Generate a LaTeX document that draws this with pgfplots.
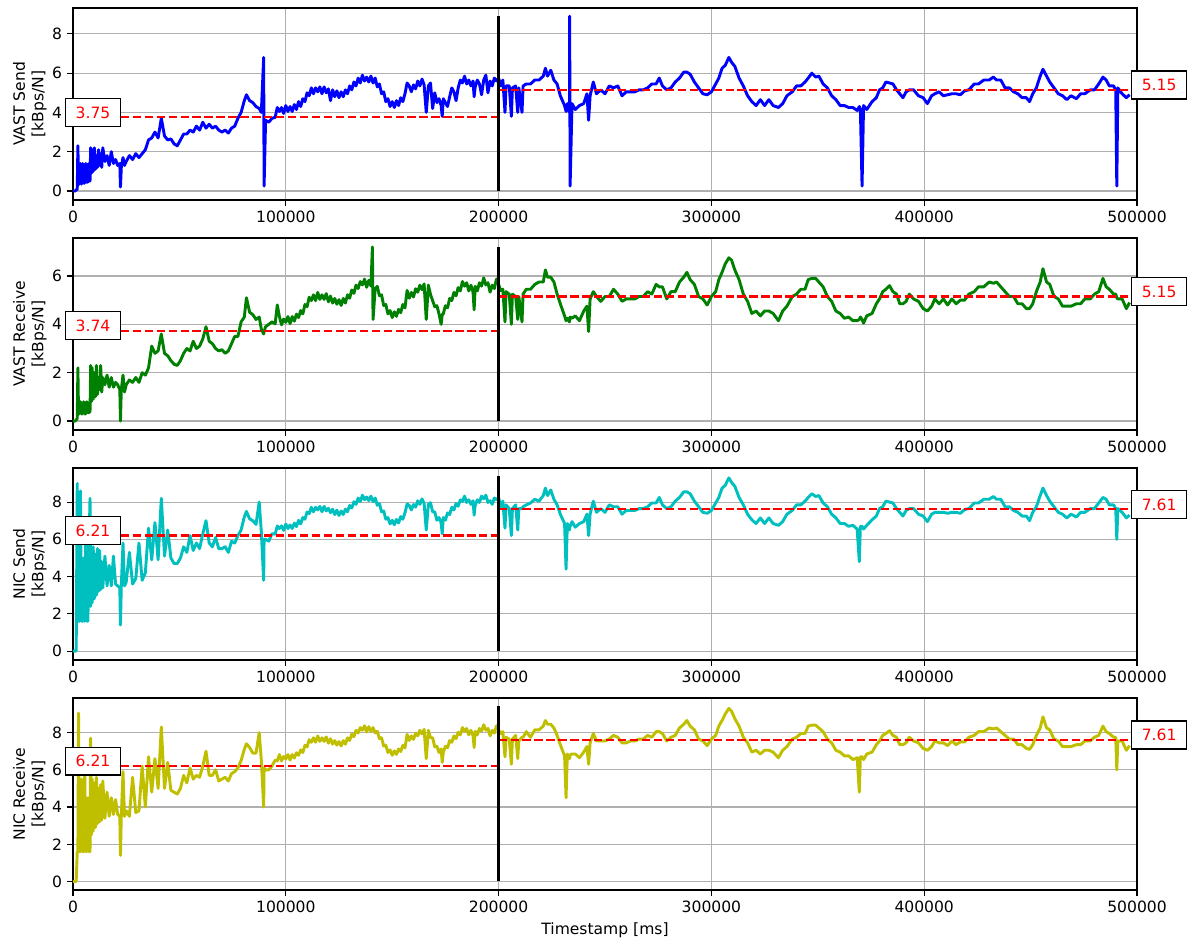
\documentclass[border=0pt]{standalone}
\usepackage{fontspec}
\setmainfont{DejaVu Sans}
\usepackage{pgfplots}
\usepackage{pgfplotstable}
\pgfplotsset{compat=1.18}

\definecolor{mplblue}{RGB}{0,0,255}
\definecolor{mplgreen}{RGB}{0,128,0}
\definecolor{mplcyan}{RGB}{0,191,191}
\definecolor{mplyellow}{RGB}{191,191,0}
\definecolor{gridgray}{RGB}{176,176,176}

\pgfplotstableread{
x vs vr ns nr
0 0 0 0 0
500 0 0 0 0
1000 0 0 0 0
1500 0.05 0.05 0 0
2000 0.1 0.1 9.0 1.6
2300 2.3 2.2 1.6 1.6
2600 0.35 0.3 1.6 9.05
3000 0.35 0.3 1.6 1.6
3500 1.4 0.8 8.6 1.6
4000 0.35 0.3 1.6 5.5
4500 1.4 0.3 1.6 1.6
5000 0.4 0.8 5.0 1.6
5500 0.4 0.3 1.6 6.0
6000 1.4 0.3 6.3 1.6
6500 0.45 0.8 1.6 1.6
7000 0.45 0.35 1.6 4.5
7500 1.4 0.35 5.5 1.6
8000 0.5 0.4 8.2 1.6
8300 2.2 2.3 2.4 7.7
8600 0.9 0.8 5.4 2.5
9000 2.1 2.2 2.6 5.5
9500 1.0 0.9 5.6 2.7
10000 2.2 2.0 2.8 5.3
10500 1.1 1.0 5.2 2.9
11000 1.8 2.3 3.0 5.6
11500 1.2 1.1 5.5 3.1
12000 2.1 1.8 3.2 5.0
12500 1.3 1.3 5.4 3.2
13000 1.9 2.3 3.3 5.2
13500 1.2 1.2 4.8 3.3
14000 2.2 1.8 3.4 5.4
15000 1.5 1.5 5.1 3.4
16000 1.8 1.9 3.5 4.8
17000 1.3 1.4 4.6 3.5
18000 2.0 1.8 3.5 4.5
19000 1.4 1.4 5.1 3.6
20000 1.6 1.6 3.6 4.4
21000 1.3 1.5 3.5 3.6
22000 1.4 1.3 3.4 3.5
22300 0.2 0.0 1.4 1.4
22700 1.2 1.3 3.5 3.5
23500 1.7 1.9 5.8 5.9
24200 1.3 1.2 3.5 3.5
25000 1.5 1.5 3.7 3.8
26500 1.8 1.7 5.3 3.5
28000 1.6 1.6 3.6 5.6
29500 1.9 1.8 3.9 3.7
31000 1.7 1.6 5.8 3.8
32500 1.9 2.0 3.8 6.2
34000 2.1 1.9 4.2 4.0
35500 2.6 2.2 6.6 6.7
37000 2.7 3.1 4.9 4.8
38500 3.0 2.8 6.9 6.6
40000 2.7 2.9 4.9 5.0
41500 3.7 3.6 8.2 8.3
43000 2.8 2.8 5.1 5.0
44500 2.6 2.7 6.5 6.4
46000 2.65 2.5 5.0 4.9
47500 2.4 2.35 4.7 4.8
49000 2.3 2.3 4.7 4.7
50500 2.6 2.5 5.0 5.0
52000 2.9 2.8 5.6 5.7
53500 2.9 3.0 5.3 5.3
55000 3.1 2.9 6.2 6.1
56500 3.0 3.3 5.4 5.5
58000 3.3 3.0 5.8 5.7
59500 3.1 3.1 5.5 5.6
61000 3.5 3.4 6.3 6.2
62500 3.2 3.9 7.0 7.0
64000 3.4 3.3 5.8 5.7
65500 3.2 3.2 5.6 5.7
67000 3.3 3.0 6.1 6.0
68500 3.1 2.9 5.5 5.4
70000 3.0 2.95 5.5 5.5
71500 3.1 2.8 5.6 5.6
73000 2.95 2.9 5.3 5.4
74500 3.2 3.2 5.9 5.8
76000 3.3 3.5 5.8 5.9
77500 3.7 3.5 6.2 6.1
79000 4.0 4.1 6.5 6.5
80500 4.6 4.3 7.2 7.1
81500 4.9 5.1 7.5 7.4
83000 4.6 4.5 7.1 7.2
84500 4.5 4.4 7.0 6.9
86000 4.3 4.2 6.8 6.9
87500 4.2 4.3 8.0 8.0
88500 4.0 3.8 6.4 6.5
89600 6.8 3.6 3.8 4.0
89800 0.25 3.7 6.0 6.1
90500 3.6 3.9 6.0 6.0
92000 3.5 4.0 5.9 6.0
93500 3.7 4.1 6.3 6.2
95000 3.75 4.02 6.28 6.52
96000 4.25 4.8 6.72 6.48
97000 4.05 4.32 6.58 6.82
98000 4.25 3.98 6.72 6.48
99000 3.95 4.22 6.48 6.72
100000 4.35 4.08 6.82 6.58
101000 4.05 4.32 6.58 6.82
102000 4.3 4.03 6.77 6.53
103000 4.05 4.32 6.58 6.82
104000 4.4 4.13 6.87 6.63
105000 4.15 4.42 6.68 6.92
106000 4.55 4.28 7.02 6.78
107000 4.3 4.57 6.83 7.07
108000 4.7 4.43 7.17 6.93
109000 4.55 4.82 7.08 7.32
110000 5.0 4.73 7.47 7.23
111000 4.85 5.12 7.38 7.62
112000 5.25 4.98 7.72 7.48
113000 4.95 5.22 7.48 7.72
114000 5.25 4.98 7.72 7.48
115000 5.05 5.32 7.58 7.82
116000 5.3 5.03 7.77 7.53
117000 4.95 5.22 7.48 7.72
118000 5.3 5.03 7.77 7.53
119000 5.0 5.27 7.53 7.77
120000 5.2 4.93 7.67 7.43
121000 4.6 5.17 7.43 7.67
122000 5.15 4.88 7.62 7.38
123000 4.8 5.07 7.33 7.57
124000 5.1 4.83 7.57 7.33
125000 4.75 5.02 7.28 7.52
126000 5.05 4.78 7.52 7.28
127000 4.8 5.07 7.33 7.57
128000 5.15 4.88 7.62 7.38
129000 4.95 5.22 7.48 7.72
130000 5.35 5.08 7.82 7.58
131000 5.15 5.42 7.68 7.92
132000 5.55 5.28 8.02 7.78
133000 5.35 5.62 7.88 8.12
134000 5.75 5.48 8.22 7.98
135000 5.5 5.77 8.03 8.27
136000 5.9 5.63 8.37 8.13
137000 5.6 5.87 8.13 8.37
138000 5.8 5.53 8.27 8.03
139000 5.55 5.82 8.08 8.32
140000 5.85 5.58 8.32 8.08
140700 5.6 7.2 8.1 8.2
141000 5.5 4.2 8.03 8.27
142000 5.75 5.48 8.22 7.98
143000 5.3 5.57 7.83 8.07
144000 5.45 5.18 7.92 7.68
145000 4.95 5.22 7.48 7.72
146000 5.05 4.78 7.52 7.28
147000 4.55 4.82 7.08 7.32
148000 4.7 4.43 7.17 6.93
149000 4.3 4.57 6.83 7.07
150000 4.55 4.28 7.02 6.78
151000 4.25 4.52 6.78 7.02
152000 4.6 4.33 7.07 6.83
153000 4.35 4.62 6.88 7.12
154000 4.75 4.48 7.22 6.98
155000 4.55 4.82 7.08 7.32
156000 4.95 4.68 7.42 7.18
157000 5.5 5.4 7.9 7.9
158000 5.35 5.08 7.82 7.58
159000 5.05 5.32 7.58 7.82
160000 5.4 5.13 7.87 7.63
161000 5.2 5.47 7.73 7.97
162000 5.6 5.33 8.07 7.83
163000 5.35 5.62 7.88 8.12
164000 5.7 5.43 8.17 7.93
165000 5.4 5.67 7.93 8.17
166000 4.0 4.2 6.5 6.6
167000 5.35 5.62 7.88 8.12
168000 5.5 5.23 7.97 7.73
169000 4.2 4.98 7.48 7.72
170000 5.0 4.73 7.47 7.23
171000 4.5 4.77 7.03 7.27
172000 4.7 4.43 7.17 6.93
173000 4.35 4.0 6.88 7.12
173500 3.8 4.4 6.3 6.4
174000 4.7 4.43 7.17 6.93
175000 4.5 4.77 7.03 7.27
176000 4.3 4.68 7.42 7.18
177000 4.8 5.07 7.33 7.57
178000 5.25 4.98 7.72 7.48
179000 5.05 5.32 7.58 7.82
180000 4.6 5.18 7.92 7.68
181000 5.25 5.52 7.78 8.02
182000 5.65 5.38 8.12 7.88
183000 5.5 5.77 8.03 8.27
184000 5.85 5.58 8.32 8.08
185000 5.45 5.72 7.98 8.22
186000 5.65 5.38 8.12 7.88
187000 5.35 5.62 7.88 8.12
188000 5.6 5.33 8.07 7.83
188500 4.8 4.6 7.3 7.2
189000 5.3 5.57 7.83 8.07
190000 5.65 5.38 8.12 7.88
191000 5.45 5.72 7.98 8.22
192000 4.9 5.58 8.32 8.08
193000 5.65 5.92 8.18 8.42
194000 5.9 5.63 8.37 8.13
195000 5.0 5.72 7.98 8.22
196000 5.6 5.33 8.07 7.83
197000 5.35 5.62 7.88 8.12
198000 5.75 5.48 8.22 7.98
199000 5.6 5.87 8.13 8.37
200000 5.75 5.65 8.25 8.15
201000 5.35 5.4 7.75 7.95
202000 5.65 5.45 8.05 8.05
203000 4.0 4.1 6.6 6.7
203500 5.35 5.35 7.85 7.75
205000 5.35 5.25 7.65 7.65
206000 3.8 4.0 6.2 6.3
206500 5.25 5.25 7.65 7.65
208000 5.35 5.15 7.85 7.85
209000 4.0 4.2 6.5 6.6
209500 5.25 5.15 7.65 7.55
211000 4.0 4.1 7.65 7.75
211500 5.35 5.25 7.75 7.75
213000 5.45 5.45 7.85 8.05
215000 5.45 5.45 7.95 7.75
217000 5.65 5.65 8.15 8.15
219000 5.65 5.75 8.05 8.15
221000 5.85 5.75 8.35 8.35
222000 6.25 6.25 8.75 8.65
223000 5.85 5.95 8.35 8.45
224500 6.15 5.95 8.65 8.45
226000 5.65 5.75 8.15 8.25
227500 5.45 5.25 7.85 7.85
229000 4.85 4.85 7.35 7.35
231000 4.35 4.35 6.85 6.75
231700 4.05 4.15 4.4 4.5
232300 4.45 4.25 6.85 6.85
233300 4.0 4.1 6.5 6.6
233400 8.9 4.2 6.6 6.6
233600 0.25 4.3 6.7 6.8
234500 4.45 4.25 6.95 6.85
236000 4.15 4.35 6.65 6.85
238000 4.35 4.15 6.85 6.65
240000 4.45 4.55 6.95 6.95
241500 4.95 4.75 7.35 7.25
242300 3.6 3.7 6.2 6.3
243000 4.85 5.05 7.35 7.45
244500 5.55 5.35 8.05 7.95
246000 4.95 5.15 7.45 7.55
248000 5.15 4.95 7.65 7.55
250000 4.95 5.15 7.45 7.55
252000 5.35 5.15 7.85 7.65
254000 5.25 5.45 7.75 7.85
256000 5.35 5.25 7.75 7.75
258000 4.85 4.95 7.35 7.45
260000 5.05 5.05 7.55 7.45
262000 5.05 5.05 7.55 7.55
264000 5.05 5.05 7.55 7.55
266000 5.15 5.15 7.65 7.65
268000 5.15 5.15 7.65 7.65
270000 5.25 5.35 7.75 7.85
272000 5.45 5.25 7.95 7.75
274000 5.45 5.65 7.95 8.05
275500 5.75 5.55 8.25 8.05
277000 5.35 5.55 7.85 7.95
279000 5.15 5.05 7.65 7.55
281000 5.25 5.35 7.75 7.75
283000 5.55 5.35 8.05 7.85
285000 5.75 5.75 8.25 8.25
287000 6.05 5.95 8.55 8.45
288500 6.05 6.15 8.55 8.65
290000 5.95 5.85 8.45 8.35
292000 5.55 5.65 8.05 8.15
294000 5.25 5.15 7.75 7.65
296000 4.95 5.05 7.45 7.55
298000 4.9 4.8 7.4 7.3
300000 5.05 5.15 7.55 7.65
302000 5.45 5.35 7.95 7.85
303500 5.75 5.85 8.25 8.35
305000 6.25 6.15 8.75 8.65
306500 6.4 6.5 8.9 9.0
308200 6.8 6.75 9.3 9.3
309500 6.55 6.65 9.05 9.15
311000 6.35 6.25 8.85 8.75
313000 5.75 5.85 8.25 8.35
315000 5.35 5.25 7.85 7.75
317000 4.85 4.95 7.35 7.45
319000 4.55 4.45 7.05 6.95
321000 4.35 4.55 6.85 7.05
323000 4.65 4.35 7.15 6.85
325000 4.35 4.55 6.85 7.05
327000 4.65 4.55 7.15 7.05
329000 4.35 4.45 6.85 6.95
331500 4.25 4.15 6.75 6.65
333500 4.45 4.55 6.95 7.05
335500 4.85 4.75 7.35 7.25
338000 5.05 5.15 7.55 7.65
340000 5.35 5.25 7.85 7.75
342000 5.35 5.45 7.85 7.95
344000 5.55 5.45 8.05 7.95
345500 5.75 5.85 8.25 8.35
347200 6.0 5.9 8.45 8.4
349000 5.8 5.9 8.3 8.4
350500 5.85 5.75 8.35 8.25
352500 5.45 5.55 7.95 8.05
354500 5.25 5.15 7.75 7.65
356500 4.85 4.95 7.35 7.45
358500 4.65 4.55 7.15 7.05
360500 4.35 4.45 6.85 6.95
362500 4.35 4.25 6.85 6.75
364500 4.25 4.3 6.7 6.75
366500 4.25 4.15 6.75 6.55
368500 4.1 4.15 6.55 6.65
369500 4.3 4.2 4.8 4.8
370000 4.2 4.3 6.7 6.7
370800 0.25 4.2 6.7 6.7
371500 4.35 4.05 6.55 6.55
373000 4.15 4.35 6.75 6.85
375500 4.55 4.45 7.05 6.95
377500 4.75 4.85 7.25 7.35
379000 5.15 5.05 7.65 7.55
380500 5.25 5.35 7.75 7.85
382000 5.55 5.45 8.05 7.95
383700 5.5 5.6 8.0 8.1
385300 5.45 5.35 7.95 7.85
387000 5.15 5.25 7.65 7.75
388500 4.95 4.85 7.45 7.35
390000 4.75 4.85 7.25 7.35
391500 5.05 4.95 7.55 7.45
393000 5.15 5.25 7.65 7.75
395000 5.15 5.05 7.65 7.55
397300 4.85 4.95 7.35 7.45
399500 4.75 4.65 7.25 7.15
401500 4.45 4.55 6.95 7.05
403500 4.85 4.75 7.35 7.25
405000 4.95 5.05 7.45 7.55
407000 5.05 4.85 7.45 7.45
409000 4.85 5.05 7.45 7.45
411000 4.9 4.8 7.4 7.3
413000 4.95 5.05 7.45 7.55
415000 4.95 4.85 7.45 7.35
417000 4.9 5.0 7.4 7.5
419000 5.1 5.0 7.6 7.5
421000 5.15 5.25 7.65 7.75
423500 5.45 5.35 7.95 7.85
425500 5.45 5.55 7.95 8.05
428000 5.65 5.55 8.15 8.05
430500 5.65 5.75 8.15 8.25
432500 5.8 5.7 8.3 8.2
434000 5.65 5.75 8.15 8.25
436000 5.65 5.55 8.15 8.05
438000 5.25 5.35 7.75 7.85
440000 5.25 5.15 7.75 7.65
442000 5.05 5.15 7.55 7.65
444000 4.95 4.85 7.45 7.35
446000 4.75 4.85 7.25 7.35
448000 4.75 4.65 7.25 7.15
449500 4.55 4.65 7.0 7.1
451000 4.95 4.85 7.45 7.35
452700 5.25 5.35 7.75 7.85
454500 5.85 5.75 8.35 8.25
455800 6.2 6.3 8.75 8.85
457500 5.85 5.75 8.35 8.25
459000 5.55 5.65 8.05 8.15
461000 5.25 5.15 7.75 7.65
463000 4.95 5.05 7.45 7.55
465000 4.85 4.75 7.35 7.25
467000 4.65 4.75 7.15 7.25
469000 4.85 4.75 7.35 7.25
471500 4.7 4.85 7.2 7.35
473500 4.95 4.85 7.45 7.35
475500 4.95 5.05 7.45 7.55
478000 5.15 5.05 7.65 7.55
480000 5.15 5.25 7.65 7.75
482000 5.45 5.35 7.95 7.85
484000 5.8 5.9 8.25 8.35
485500 5.65 5.55 8.15 8.05
487000 5.35 5.45 7.85 7.95
489000 5.35 5.25 7.85 7.75
490000 5.15 5.25 7.65 7.75
490500 0.25 5.1 6.0 6.0
491000 5.25 5.05 7.65 7.55
493000 4.95 5.05 7.45 7.55
495000 4.75 4.65 7.15 7.05
496500 4.9 4.9 7.3 7.3
}\datatable

\pgfplotsset{
  panel/.style={
    width=766.08pt, height=138.24pt, scale only axis,
    anchor=south west,
    xmin=0, xmax=500000,
    xtick={0,100000,200000,300000,400000,500000},
    xticklabels={0,100000,200000,300000,400000,500000},
    scaled x ticks=false,
    /pgf/number format/assume math mode=true,
    grid=major, grid style={gridgray, line width=0.8pt},
    axis line style={line width=0.8pt},
    tick align=outside, tick pos=left, major tick length=4pt,
    tick style={black, line width=0.8pt},
    clip=false,
    ylabel style={align=center, at={(axis description cs:-0.0196,0.5)}, anchor=south},
    every axis plot/.append style={line width=2.1pt, line join=round},
  },
  meanline/.style={red, line width=1.6pt, dash pattern=on 6pt off 2.6pt},
  vline/.style={black, line width=1.6pt},
}
\tikzset{
  lbl/.style={draw=black, line width=0.8pt, fill=white, text=red,
    inner xsep=7.2pt, inner ysep=6pt, text height=8.1pt, text depth=0pt,
    anchor=center, yshift=3.5pt},
}

\begin{document}
\fontsize{11.2}{13.4}\selectfont
\begin{tikzpicture}
\useasboundingbox (0,0) rectangle (855.36pt,677.52pt);

\begin{axis}[panel, at={(52.56pt,533.52pt)}, ymin=-0.46, ymax=9.32,
  ytick={0,2,4,6,8}, ylabel={VAST Send\\{[kBps/N]}}]
\addplot[mplblue] table[x=x,y=vs]{\datatable};
\addplot[meanline] coordinates {(0,3.75) (200000,3.75)};
\addplot[meanline] coordinates {(200000,5.15) (496500,5.15)};
\addplot[vline] coordinates {(200000,0) (200000,8.9)};
\node[lbl] at (axis cs:9400,3.75) {3.75};
\node[lbl] at (axis cs:510400,5.15) {5.15};
\end{axis}

\begin{axis}[panel, at={(52.56pt,367.92pt)}, ymin=-0.37, ymax=7.57,
  ytick={0,2,4,6}, ylabel={VAST Receive\\{[kBps/N]}}]
\addplot[mplgreen] table[x=x,y=vr]{\datatable};
\addplot[meanline] coordinates {(0,3.74) (200000,3.74)};
\addplot[meanline] coordinates {(200000,5.15) (496500,5.15)};
\addplot[vline] coordinates {(200000,0) (200000,7.2)};
\node[lbl] at (axis cs:9400,3.74) {3.74};
\node[lbl] at (axis cs:510400,5.15) {5.15};
\end{axis}

\begin{axis}[panel, at={(52.56pt,202.32pt)}, ymin=-0.48, ymax=9.83,
  ytick={0,2,4,6,8}, ylabel={NIC Send\\{[kBps/N]}}]
\addplot[mplcyan] table[x=x,y=ns]{\datatable};
\addplot[meanline] coordinates {(0,6.21) (200000,6.21)};
\addplot[meanline] coordinates {(200000,7.61) (496500,7.61)};
\addplot[vline] coordinates {(200000,0) (200000,9.4)};
\node[lbl] at (axis cs:9400,6.21) {6.21};
\node[lbl] at (axis cs:510400,7.61) {7.61};
\end{axis}

\begin{axis}[panel, at={(52.56pt,36.72pt)}, ymin=-0.46, ymax=9.86,
  ytick={0,2,4,6,8}, ylabel={NIC Receive\\{[kBps/N]}},
  xlabel={Timestamp [ms]},
  xlabel style={at={(axis description cs:0.5,-0.208)}, anchor=center}]
\addplot[mplyellow] table[x=x,y=nr]{\datatable};
\addplot[meanline] coordinates {(0,6.21) (200000,6.21)};
\addplot[meanline] coordinates {(200000,7.61) (496500,7.61)};
\addplot[vline] coordinates {(200000,0) (200000,9.45)};
\node[lbl] at (axis cs:9400,6.21) {6.21};
\node[lbl] at (axis cs:510400,7.61) {7.61};
\end{axis}
\end{tikzpicture}
\end{document}
